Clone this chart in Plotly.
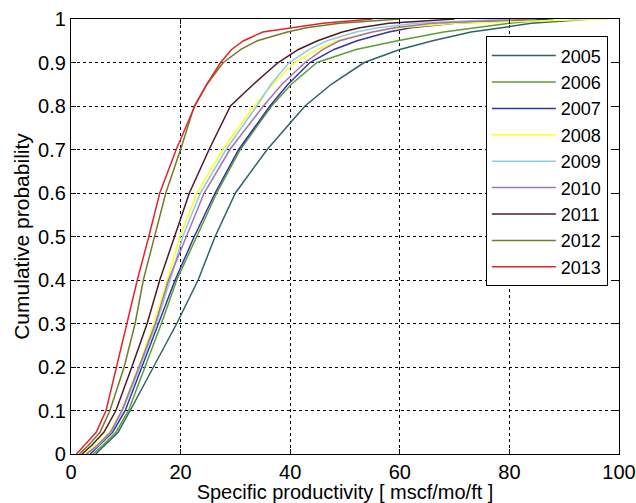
import plotly.graph_objects as go

# Cumulative probability levels at which each year's productivity quantiles are given
prob = [0, 0.02, 0.05, 0.1, 0.2, 0.3, 0.4, 0.5, 0.6, 0.7, 0.8, 0.85,
        0.9, 0.93, 0.95, 0.97, 0.98, 0.99, 1.0]

# Specific productivity [mscf/mo/ft] at each probability level, by year
y2005 = [4.5, 6.2, 8.6, 10.8, 15.0, 19.3, 23.2, 26.3, 30.0, 35.8, 42.7, 47.5,
         53.5, 60.0, 66.0, 73.0, 78.6, 84.0, 95]
y2006 = [4.0, 5.8, 8.2, 10.5, 13.5, 16.5, 19.3, 22.9, 26.6, 30.9, 36.6, 40.2,
         44.9, 52.0, 59.6, 68.0, 74.0, 80.0, 88]
y2007 = [3.5, 5.2, 7.6, 9.9, 12.9, 15.9, 19.0, 22.5, 26.3, 30.6, 36.3, 39.6,
         43.6, 48.0, 52.2, 58.0, 62.0, 70.0, 87]
y2008 = [2.5, 4.5, 7.0, 9.2, 12.3, 15.1, 17.6, 19.9, 23.0, 27.7, 33.4, 36.8,
         40.8, 45.0, 48.5, 55.0, 60.0, 70.0, 98]
y2009 = [3.0, 5.0, 7.3, 9.4, 12.6, 15.6, 18.1, 20.4, 23.6, 28.3, 33.9, 36.5,
         39.8, 43.5, 46.7, 52.0, 56.0, 63.0, 80]
y2010 = [2.8, 4.8, 7.2, 9.3, 12.4, 15.4, 17.8, 21.0, 24.3, 29.0, 35.1, 38.5,
         42.7, 46.0, 49.0, 55.0, 59.0, 66.0, 85]
y2011 = [2.0, 3.8, 6.0, 8.2, 11.1, 13.9, 16.2, 18.9, 21.6, 25.2, 29.1, 33.3,
         37.8, 41.5, 45.0, 49.5, 52.7, 58.0, 70]
y2012 = [1.5, 3.2, 5.3, 7.1, 9.7, 11.7, 13.2, 15.2, 17.3, 20.0, 22.5, 24.8,
         27.8, 31.0, 34.0, 39.5, 43.0, 49.0, 60]
y2013 = [1.0, 2.5, 4.6, 6.4, 8.3, 10.2, 12.1, 14.2, 16.2, 19.2, 22.6, 24.8,
         27.3, 29.3, 31.5, 35.0, 40.5, 46.0, 55]

years = ["2005", "2006", "2007", "2008", "2009", "2010", "2011", "2012", "2013"]
series = [y2005, y2006, y2007, y2008, y2009, y2010, y2011, y2012, y2013]
colors = ["#2e6468", "#5c9e34", "#3236a0", "#ffff1a", "#8ccaea",
          "#a373b4", "#4e1c24", "#6f7c2c", "#e0262a"]

x_ticks = [0, 20, 40, 60, 80, 100]
y_ticks = [0, 0.1, 0.2, 0.3, 0.4, 0.5, 0.6, 0.7, 0.8, 0.9, 1]
y_ticktext = ["0", "0.1", "0.2", "0.3", "0.4", "0.5", "0.6", "0.7", "0.8", "0.9", "1"]

fig = go.Figure()
for name, xs, c in zip(years, series, colors):
    fig.add_trace(go.Scatter(
        x=xs, y=prob, mode="lines", name=name,
        line=dict(color=c, width=1.5),
    ))

font_family = "Liberation Sans, Arial, sans-serif"
axis_common = dict(
    showline=True, linecolor="black", linewidth=1.2, mirror="ticks",
    ticks="inside", ticklen=5, tickcolor="black",
    showgrid=True, gridcolor="black", griddash="dot", gridwidth=1,
    zeroline=False, automargin=False,
    tickfont=dict(family=font_family, size=20, color="black"),
)

fig.update_layout(
    width=636, height=503,
    margin=dict(l=71, r=17, t=19, b=49),
    paper_bgcolor="white", plot_bgcolor="white",
    font=dict(family=font_family, color="black"),
    xaxis=dict(range=[0, 100], tickvals=x_ticks, ticklabelstandoff=0, **axis_common,
               title=dict(text="Specific productivity [ mscf/mo/ft ]",
                          font=dict(size=20), standoff=0)),
    yaxis=dict(range=[0, 1], tickvals=y_ticks, ticktext=y_ticktext, **axis_common,
               title=dict(text="Cumulative probability", font=dict(size=21), standoff=2)),
    legend=dict(
        x=0.757, y=0.96, xanchor="left", yanchor="top",
        bgcolor="white", bordercolor="black", borderwidth=1,
        font=dict(family=font_family, size=18, color="black"),
        itemwidth=64,
    ),
    showlegend=True,
)

fig.write_html("out.html")
